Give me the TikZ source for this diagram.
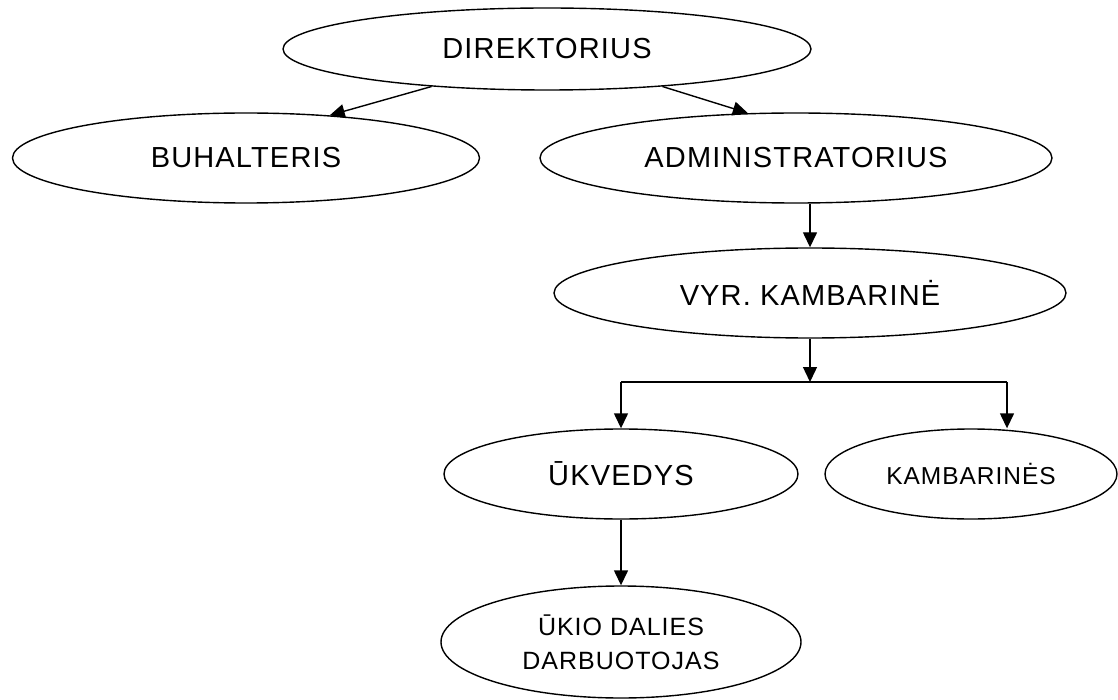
\documentclass[tikz,border=0pt]{standalone}
\usepackage{fontspec}
\setmainfont{Liberation Sans}[LetterSpace=4]
\usetikzlibrary{shapes.geometric,arrows.meta,calc}

\begin{document}
\begin{tikzpicture}[x=1pt,y=-1pt,
  unit/.style={draw,ellipse,line width=1.4pt,inner sep=0pt,align=center,
    font=\fontsize{29}{34}\selectfont},
  arr/.style={line width=1.4pt,-{Triangle[length=15pt,width=14pt]}},
  link/.style={line width=1.4pt}]
  \useasboundingbox (0,0) rectangle (1118,700);

  % positions
  \node[unit,minimum width=528pt,minimum height=82pt] (dir) at (547,49) {DIREKTORIUS};
  \node[unit,minimum width=467pt,minimum height=90pt] (buh) at (246,158) {BUHALTERIS};
  \node[unit,minimum width=512pt,minimum height=90pt] (adm) at (796,158) {ADMINISTRATORIUS};
  \node[unit,minimum width=512pt,minimum height=90pt] (vyr) at (810,293) {VYR. KAMBARINĖ};
  \node[unit,minimum width=354pt,minimum height=90pt] (ukv) at (621,474) {ŪKVEDYS};
  \node[unit,minimum width=292pt,minimum height=90pt,
        font=\fontsize{24.5}{30}\selectfont] (kam) at (971,474) {KAMBARINĖS};
  \node[unit,minimum width=360pt,minimum height=112pt,
        font=\fontsize{25}{34}\selectfont] (uk) at (621,642) {ŪKIO DALIES\\DARBUOTOJAS};

  % branching bar below the head housekeeper
  \coordinate (br) at (1007,382);
  \coordinate (bl) at (ukv.north |- br);

  % connectors
  \draw[arr] (dir.198) -- (buh.27);
  \draw[arr] (dir.342) -- (adm.137);
  \draw[arr] (vyr.north |- adm.south) -- (vyr.north);
  \draw[arr] (vyr.south) -- (vyr.south |- br);
  \draw[link] (bl) -- (br);
  \draw[arr] (bl) -- (ukv.north);
  \draw[arr] (br) -- (br |- kam.north);
  \draw[arr] (ukv.south) -- (uk.north);
\end{tikzpicture}
\end{document}
